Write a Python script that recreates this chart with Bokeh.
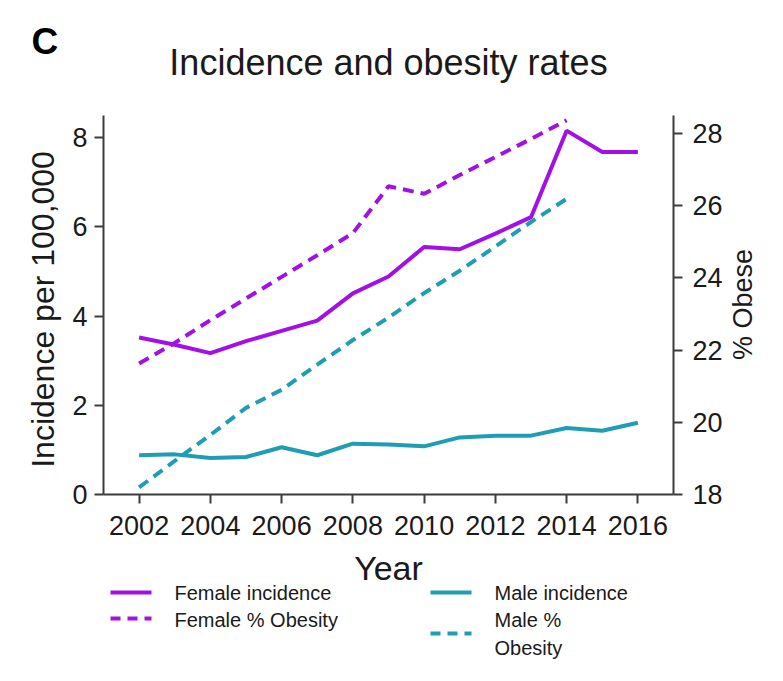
import math
from bokeh.plotting import figure
from bokeh.layouts import column
from bokeh.models import Range1d, LinearAxis, FixedTicker
from bokeh.core.properties import value
from bokeh.embed import file_html
from bokeh.resources import INLINE

# ---------------- data ----------------
years = [2002, 2003, 2004, 2005, 2006, 2007, 2008, 2009, 2010, 2011, 2012, 2013, 2014, 2015, 2016]
female_incidence = [3.52, 3.36, 3.17, 3.44, 3.67, 3.90, 4.51, 4.89, 5.55, 5.50, 5.85, 6.22, 8.16, 7.68, 7.68]
male_incidence = [0.88, 0.90, 0.82, 0.84, 1.06, 0.88, 1.14, 1.12, 1.08, 1.28, 1.32, 1.32, 1.49, 1.43, 1.61]

obesity_years = [2002, 2003, 2004, 2005, 2006, 2007, 2008, 2009, 2010, 2011, 2012, 2013, 2014]
female_obesity = [21.63, 22.20, 22.83, 23.43, 24.03, 24.63, 25.24, 26.54, 26.33, 26.85, 27.35, 27.85, 28.37]
male_obesity = [18.20, 18.93, 19.65, 20.40, 20.90, 21.60, 22.28, 22.90, 23.58, 24.20, 24.87, 25.55, 26.19]

x_ticks = [2002, 2004, 2006, 2008, 2010, 2012, 2014, 2016]
left_ticks = [0, 2, 4, 6, 8]
right_ticks = [18, 20, 22, 24, 26, 28]

legend_labels_left = ["Female incidence", "Female % Obesity"]
legend_labels_right = ["Male incidence", "Male %", "Obesity"]

PURPLE = "#A210E6"
TEAL = "#1E9DB4"
FONT = "Liberation Sans"
AXIS_COLOR = "#3c3c3c"
TEXT_COLOR = "#1a1a1a"
DASH = "11 7"
LW = 4

W, H = 775, 673

p = figure(width=W, height=H, x_range=Range1d(2001, 2017), y_range=Range1d(0, 8.5),
           output_backend="svg", toolbar_location=None,
           min_border_left=103, min_border_right=102, min_border_top=115, min_border_bottom=179)
p.extra_y_ranges = {"obese": Range1d(18, 28.5)}
p.outline_line_color = None
p.xgrid.visible = False
p.ygrid.visible = False
p.background_fill_color = "white"
p.border_fill_color = "white"

r_fi = p.line(years, female_incidence, line_color=PURPLE, line_width=LW)
r_mi = p.line(years, male_incidence, line_color=TEAL, line_width=LW)
r_fo = p.line(obesity_years, female_obesity, line_color=PURPLE, line_width=LW,
              line_dash=DASH, y_range_name="obese")
r_mo = p.line(obesity_years, male_obesity, line_color=TEAL, line_width=LW,
              line_dash=DASH, y_range_name="obese")

right_axis = LinearAxis(y_range_name="obese")
p.add_layout(right_axis, "right")

def style_axis(ax, ticks):
    ax.ticker = FixedTicker(ticks=ticks)
    ax.minor_tick_line_color = None
    ax.axis_line_color = AXIS_COLOR
    ax.axis_line_width = 2
    ax.major_tick_line_color = AXIS_COLOR
    ax.major_tick_line_width = 2
    ax.major_tick_in = 0
    ax.major_tick_out = 9
    ax.major_label_text_font = FONT
    ax.major_label_text_font_size = "27px"
    ax.major_label_text_color = TEXT_COLOR
    ax.axis_label_text_font = FONT
    ax.axis_label_text_font_style = "normal"
    ax.axis_label_text_color = TEXT_COLOR

style_axis(p.xaxis[0], x_ticks)
style_axis(p.yaxis[0], left_ticks)
style_axis(right_axis, right_ticks)

p.xaxis[0].axis_label = "Year"
p.xaxis[0].axis_label_text_font_size = "34px"
p.xaxis[0].major_label_standoff = 12
p.xaxis[0].axis_label_standoff = 11

p.yaxis[0].axis_label = "Incidence  per 100,000"
p.yaxis[0].axis_label_text_font_size = "32px"
p.yaxis[0].major_label_standoff = 7
p.yaxis[0].axis_label_standoff = 8

right_axis.major_label_standoff = 10

p.title.text = "Incidence and obesity rates"
p.title.text_font = FONT
p.title.text_font_size = "36px"
p.title.text_font_style = "normal"
p.title.text_color = TEXT_COLOR
p.title.align = "center"
p.title.standoff = 66

# ---------- overlay for panel letter, right-axis title and legend (pixel coordinates) ----------
ov = figure(width=W, height=H, x_range=Range1d(0, W), y_range=Range1d(H, 0),
            output_backend="svg", toolbar_location=None,
            x_axis_location=None, y_axis_location=None, min_border=0)
ov.grid.visible = False
ov.outline_line_color = None
ov.background_fill_color = None
ov.border_fill_color = None
ov.margin = (-H, 0, 0, 0)
for fig in (p, ov):
    try:
        fig.frame_align = False
    except Exception:
        pass

ov.text(x=[31], y=[41], text=["C"], text_font=value(FONT), text_font_size="37px",
        text_font_style="bold", text_color="black", text_baseline="middle")

# right axis title, reading bottom-to-top
ov.text(x=[742], y=[304], text=["% Obese"], angle=math.pi / 2, text_font=value(FONT),
        text_font_size="27px", text_color=TEXT_COLOR, text_align="center", text_baseline="middle")

# legend swatches
ov.line([110, 151], [592, 592], line_color=PURPLE, line_width=LW)
ov.line([110, 151], [618, 618], line_color=PURPLE, line_width=LW, line_dash="10 7")
ov.line([430, 471], [592, 592], line_color=TEAL, line_width=LW)
ov.line([430, 471], [633, 633], line_color=TEAL, line_width=LW, line_dash="10 7")

ov.text(x=[174, 174], y=[592.5, 619], text=legend_labels_left, text_font=value(FONT),
        text_font_size="20px", text_color=TEXT_COLOR, text_baseline="middle")
ov.text(x=[494, 494, 494], y=[592.5, 619.5, 647], text=legend_labels_right, text_font=value(FONT),
        text_font_size="20px", text_color=TEXT_COLOR, text_baseline="middle")

layout = column(p, ov)
open("out.html", "w").write(file_html(layout, INLINE))
